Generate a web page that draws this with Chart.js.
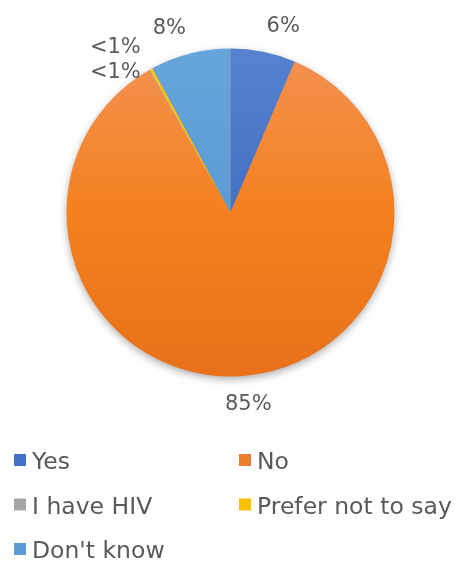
<!DOCTYPE html>
<html>
<head>
<meta charset="utf-8">
<script src="https://cdn.jsdelivr.net/npm/chart.js@4/dist/chart.umd.min.js"></script>
<style>
  html, body { margin: 0; padding: 0; background: #ffffff; }
  #wrap { width: 459px; height: 563px; }
</style>
</head>
<body>
<div id="wrap"><canvas id="c" width="459" height="563"></canvas></div>
<script>
// ---- data ----
const categories = ["Yes", "No", "I have HIV", "Prefer not to say", "Don't know"];
const percentValues = [6.4, 85.3, 0.1, 0.3, 7.9];
const sliceColors = ["#4472C4", "#ED7D31", "#A5A5A5", "#FFC000", "#5B9BD5"];
const sliceTop = ["#5583D0", "#F39152", "#AEAEAE", "#FFC51A", "#66A6DC"];
const sliceBottom = ["#3365C5", "#E8711A", "#9A9A9A", "#F5B800", "#4C92D4"];

const FONT = "'DejaVu Sans', sans-serif";
const TEXT_COLOR = "#595959";

function labelText(v) {
  return v < 1 ? "<1%" : Math.round(v) + "%";
}

function sliceFill(ctx) {
  const chart = ctx.chart;
  const area = chart.chartArea;
  if (!area) return sliceColors[ctx.dataIndex];
  const g = chart.ctx.createLinearGradient(0, area.top, 0, area.bottom);
  g.addColorStop(0, sliceTop[ctx.dataIndex]);
  g.addColorStop(0.5, sliceColors[ctx.dataIndex] === "#ED7D31" ? "#F4811F" : sliceColors[ctx.dataIndex]);
  g.addColorStop(1, sliceBottom[ctx.dataIndex]);
  return g;
}

const shadowPlugin = {
  id: "pieShadow",
  beforeDatasetsDraw(chart) {
    const arc = chart.getDatasetMeta(0).data[0];
    if (!arc) return;
    const ctx = chart.ctx;
    ctx.save();
    ctx.shadowColor = "rgba(0,0,0,0.35)";
    ctx.shadowBlur = 9;
    ctx.shadowOffsetY = 3;
    ctx.fillStyle = "#ED7D31";
    ctx.beginPath();
    ctx.arc(arc.x, arc.y, arc.outerRadius - 0.5, 0, Math.PI * 2);
    ctx.fill();
    ctx.restore();
  }
};

const labelPlugin = {
  id: "outsideLabels",
  afterDatasetsDraw(chart) {
    const ctx = chart.ctx;
    const meta = chart.getDatasetMeta(0);
    const vals = chart.data.datasets[0].data;
    const fontSize = 21;
    const capH = fontSize * 0.73;
    const boxH = 20;
    const dist = 17;
    ctx.save();
    ctx.font = fontSize + "px " + FONT;
    ctx.fillStyle = TEXT_COLOR;
    ctx.textAlign = "center";
    ctx.textBaseline = "alphabetic";
    const placed = [];
    meta.data.forEach((arc, i) => {
      const t = labelText(vals[i]);
      const w = ctx.measureText(t).width;
      const mid = (arc.startAngle + arc.endAngle) / 2;
      const ax = arc.x + Math.cos(mid) * (arc.outerRadius + dist);
      const ay = arc.y + Math.sin(mid) * (arc.outerRadius + dist);
      const k = Math.max(-1, Math.min(1, Math.cos(mid) * 5));
      let cx = ax + k * w / 2;
      let cy = ay + Math.sin(mid) * boxH / 2 - 1;
      // resolve overlaps by pushing down, keeping the outer edge aligned
      let moved = true;
      while (moved) {
        moved = false;
        for (const p of placed) {
          const ox = Math.abs(cx - p.cx) < (w + p.w) / 2;
          const oy = Math.abs(cy - p.cy) < boxH + 4;
          if (ox && oy) {
            cy = p.cy + boxH + 5;
            if (k < 0) cx = p.cx + p.w / 2 - w / 2;
            else cx = p.cx - p.w / 2 + w / 2;
            moved = true;
          }
        }
      }
      placed.push({ cx, cy, w });
      ctx.fillText(t, cx, cy + capH / 2);
    });
    ctx.restore();
  }
};

const legendPlugin = {
  id: "gridLegend",
  afterDraw(chart) {
    const ctx = chart.ctx;
    const labels = chart.data.labels;
    const colX = [14, 239];
    const rowBase = 469;
    const rowStep = 44.5;
    const box = 12;
    ctx.save();
    ctx.font = "23.5px " + FONT;
    ctx.textAlign = "left";
    ctx.textBaseline = "alphabetic";
    labels.forEach((lab, i) => {
      const col = i % 2, row = Math.floor(i / 2);
      const x = colX[col];
      const base = rowBase + row * rowStep;
      ctx.fillStyle = sliceColors[i];
      ctx.fillRect(x, base - 15, box, box);
      ctx.fillStyle = TEXT_COLOR;
      ctx.fillText(lab, x + box + 6, base);
    });
    ctx.restore();
  }
};

new Chart(document.getElementById("c"), {
  type: "pie",
  data: {
    labels: categories,
    datasets: [{
      data: percentValues,
      backgroundColor: sliceFill,
      borderWidth: 0
    }]
  },
  options: {
    responsive: false,
    maintainAspectRatio: false,
    animation: false,
    layout: { padding: { left: 66.5, right: 64.5, top: 48.5, bottom: 186.5 } },
    plugins: {
      legend: { display: false },
      tooltip: { enabled: false }
    }
  },
  plugins: [shadowPlugin, labelPlugin, legendPlugin]
});
</script>
</body>
</html>
